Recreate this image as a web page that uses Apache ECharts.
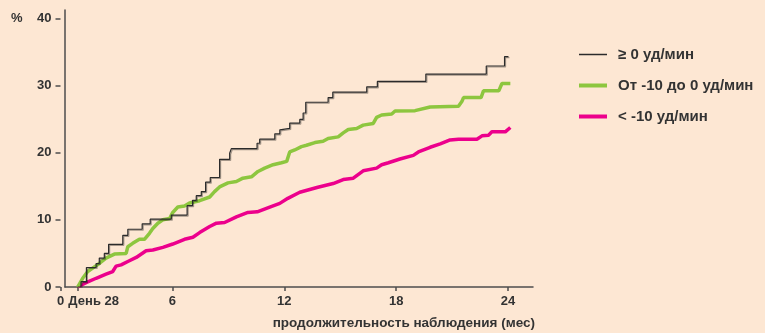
<!DOCTYPE html>
<html>
<head>
<meta charset="utf-8">
<script src="https://cdn.jsdelivr.net/npm/echarts@6/dist/echarts.min.js"></script>
<style>
  html, body { margin: 0; padding: 0; background: #fde7d3; }
  #chart { width: 765px; height: 333px; }
</style>
</head>
<body>
<div id="chart"></div>
<script>
// Cumulative incidence (%) over follow-up time (months) for three groups
const DAY28 = 0.92; // day 28 expressed in months

const seriesNames = ['≥ 0 уд/мин', 'От -10 до 0 уд/мин', '< -10 уд/мин'];

const xTicks = [0, DAY28, 6, 12, 18, 24];
const yTicks = [0, 10, 20, 30, 40];

// group "≥ 0 уд/мин" (step curve)
const monthsHigh = [0.92, 1.10, 1.39, 1.91, 2.08, 2.35, 2.58, 3.34, 3.61, 4.38, 4.81, 5.94, 6.79, 7.08, 7.28, 7.55, 7.78, 8.03, 8.53, 9.07, 9.16, 10.54, 10.68, 11.49, 11.76, 11.85, 12.29, 12.83, 13.01, 13.15, 14.35, 14.60, 16.42, 16.99, 19.59, 22.83, 23.81, 24.02];
const valuesHigh = [0, 0.8, 2.9, 3.5, 4.3, 5.0, 6.35, 7.7, 8.6, 9.4, 10.1, 10.7, 12.1, 12.9, 13.6, 14.2, 15.6, 16.3, 19.0, 19.9, 20.6, 21.4, 22.0, 22.8, 23.4, 23.6, 24.4, 24.95, 25.9, 27.5, 28.2, 29.0, 29.8, 30.6, 31.7, 32.9, 34.3, 34.3];

// group "От -10 до 0 уд/мин"
const monthsMid = [0.92, 1.19, 1.46, 1.82, 2.08, 2.44, 2.89, 3.52, 3.61, 3.87, 4.23, 4.50, 4.77, 4.95, 5.22, 5.49, 5.85, 6.02, 6.29, 6.65, 6.92, 7.46, 8.00, 8.26, 8.53, 8.98, 9.43, 9.78, 10.24, 10.59, 10.95, 11.40, 11.85, 12.13, 12.29, 12.56, 12.92, 13.19, 13.64, 14.08, 14.35, 14.89, 15.16, 15.43, 15.88, 16.23, 16.77, 16.95, 17.22, 17.76, 17.94, 19.01, 19.82, 21.34, 21.52, 21.61, 22.55, 22.68, 23.50, 23.67, 24.12];
const valuesMid = [0, 1.3, 2.3, 3.0, 3.5, 4.3, 4.9, 5.0, 6.0, 6.5, 7.1, 7.1, 8.0, 8.7, 9.5, 10.0, 10.2, 11.1, 11.9, 12.05, 12.5, 12.85, 13.4, 14.2, 14.9, 15.5, 15.7, 16.2, 16.4, 17.2, 17.7, 18.2, 18.5, 18.7, 20.1, 20.4, 20.9, 21.1, 21.5, 21.7, 22.1, 22.35, 22.95, 23.45, 23.6, 24.1, 24.35, 25.25, 25.6, 25.75, 26.2, 26.25, 26.8, 26.9, 27.6, 28.2, 28.2, 29.2, 29.2, 30.3, 30.3];

// group "< -10 уд/мин"
const monthsLow = [0.92, 1.37, 1.91, 2.44, 2.80, 2.98, 3.25, 3.61, 4.06, 4.59, 4.95, 5.49, 6.02, 6.65, 7.10, 7.46, 8.00, 8.36, 8.80, 9.43, 10.05, 10.55, 11.22, 11.76, 12.19, 12.83, 13.80, 14.62, 15.16, 15.70, 16.23, 16.95, 17.22, 17.58, 18.20, 18.92, 19.19, 19.82, 20.36, 20.89, 21.34, 22.33, 22.60, 22.95, 23.13, 23.85, 24.12];
const valuesLow = [0, 0.65, 1.3, 1.9, 2.3, 3.1, 3.3, 3.8, 4.4, 5.4, 5.5, 5.9, 6.4, 7.1, 7.4, 8.1, 9.0, 9.5, 9.6, 10.45, 11.1, 11.2, 11.9, 12.45, 13.2, 14.1, 14.85, 15.4, 16.0, 16.2, 17.3, 17.7, 18.2, 18.5, 19.05, 19.6, 20.1, 20.8, 21.3, 21.9, 22.0, 22.0, 22.5, 22.6, 23.1, 23.1, 23.75];

const zip = (xs, ys) => xs.map((x, i) => [x, ys[i]]);

const FONT = '"Liberation Sans", Arial, sans-serif';
const TEXT = '#333333';
const AXIS = '#4d4d4d';
const KEY_WIDTHS = [1.5, 4, 4];

const chart = echarts.init(document.getElementById('chart'), null, { renderer: 'canvas' });

chart.setOption({
  backgroundColor: '#fde7d3',
  animation: false,
  textStyle: { fontFamily: FONT },
  title: {
    text: '%',
    left: 6,
    top: 7,
    textStyle: { fontFamily: FONT, fontSize: 13, fontWeight: 'bold', color: TEXT }
  },
  graphic: [{
    type: 'text',
    right: 230,
    top: 316,
    style: {
      text: 'продолжительность наблюдения (мес)',
      font: 'bold 13.5px ' + FONT,
      fill: TEXT
    }
  }],
  legend: {
    orient: 'vertical',
    left: 572,
    top: 42,
    itemWidth: 28,
    itemHeight: 16,
    itemGap: 16,
    data: seriesNames.map((name, i) => ({ name, lineStyle: { width: KEY_WIDTHS[i] } })),
    // legend keys show only the line sample
    itemStyle: { opacity: 0 },
    textStyle: { fontFamily: FONT, fontSize: 15, fontWeight: 'bold', color: TEXT, padding: [0, 0, 0, 6] }
  },
  grid: [
    // data area: month 0 at the left edge, 40 % at the top edge
    { left: 60.5, top: 18.3, width: 473.7, height: 268.7 },
    // frame for the two drawn axis lines
    { left: 65, top: 10, width: 468, height: 277 }
  ],
  xAxis: [{
    gridIndex: 0,
    type: 'value',
    min: 0,
    max: 25.4,
    axisLine: { show: false },
    splitLine: { show: false },
    axisTick: {
      show: true,
      length: 4,
      customValues: xTicks,
      lineStyle: { color: AXIS, width: 1.5 }
    },
    axisLabel: {
      customValues: xTicks,
      margin: 8,
      fontFamily: FONT,
      fontSize: 13,
      fontWeight: 'bold',
      color: TEXT,
      formatter: v => (Math.abs(v - DAY28) < 1e-6 ? '{d|День 28}' : String(v)),
      rich: {
        d: { fontFamily: FONT, fontSize: 13, fontWeight: 'bold', color: TEXT, padding: [0, 0, 0, 32] }
      }
    }
  }, {
    gridIndex: 1,
    type: 'value',
    min: 0,
    max: 1,
    axisLine: { show: true, lineStyle: { color: AXIS, width: 1.5 } },
    axisTick: { show: false },
    axisLabel: { show: false },
    splitLine: { show: false }
  }],
  yAxis: [{
    gridIndex: 0,
    type: 'value',
    min: 0,
    max: 40,
    interval: 10,
    axisLine: { show: false },
    splitLine: { show: false },
    axisTick: { show: true, length: 5, lineStyle: { color: AXIS, width: 1.5 } },
    axisLabel: {
      margin: 9,
      fontFamily: FONT,
      fontSize: 13,
      fontWeight: 'bold',
      color: TEXT,
      formatter: v => (yTicks.includes(v) ? String(v) : '')
    }
  }, {
    gridIndex: 1,
    type: 'value',
    min: 0,
    max: 1,
    axisLine: { show: true, lineStyle: { color: AXIS, width: 1.5 } },
    axisTick: { show: false },
    axisLabel: { show: false },
    splitLine: { show: false }
  }],
  series: [{
    name: seriesNames[2],
    type: 'line',
    xAxisIndex: 0,
    yAxisIndex: 0,
    symbol: 'none',
    data: zip(monthsLow, valuesLow),
    itemStyle: { color: '#ec008c' },
    lineStyle: { color: '#ec008c', width: 3.5 },
    z: 2
  }, {
    name: seriesNames[1],
    type: 'line',
    xAxisIndex: 0,
    yAxisIndex: 0,
    symbol: 'none',
    data: zip(monthsMid, valuesMid),
    itemStyle: { color: '#8dc63f' },
    lineStyle: { color: '#8dc63f', width: 3.5 },
    z: 3
  }, {
    name: seriesNames[0],
    type: 'line',
    xAxisIndex: 0,
    yAxisIndex: 0,
    step: 'end',
    symbol: 'none',
    data: zip(monthsHigh, valuesHigh),
    itemStyle: { color: '#2b2b2b' },
    lineStyle: {
      color: '#2b2b2b',
      width: 1.2,
      shadowColor: 'rgba(0,0,0,0.35)',
      shadowOffsetX: 1,
      shadowOffsetY: 1,
      shadowBlur: 0
    },
    z: 4
  }]
});
</script>
</body>
</html>
